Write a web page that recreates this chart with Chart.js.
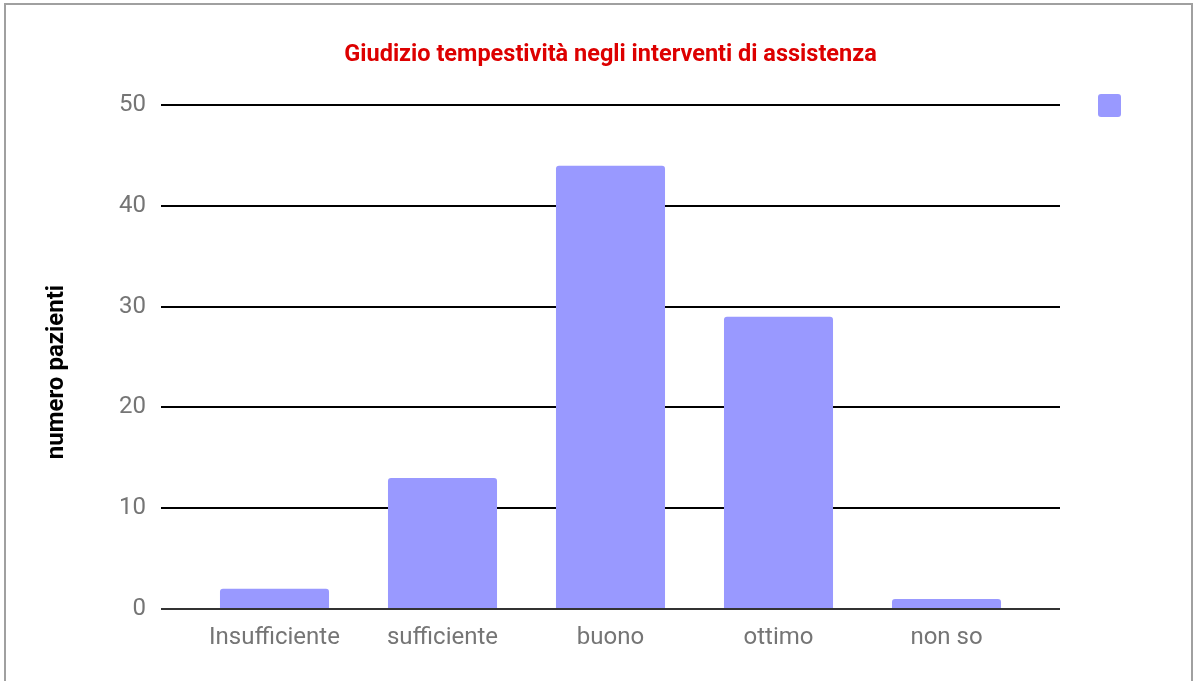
<!DOCTYPE html>
<html>
<head>
<meta charset="utf-8">
<script src="https://cdn.jsdelivr.net/npm/chart.js@4"></script>
<style>
    html, body { margin: 0; padding: 0; background: #fff; overflow: hidden; }
    #wrap { position: relative; width: 1200px; height: 681px; }
    #frame { position: absolute; left: 4px; top: 3px; width: 1189px; height: 720px;
             border: 2px solid #a0a0a0; box-sizing: border-box; }
    canvas { position: absolute; left: 0; top: 0; }
</style>
</head>
<body>
<div id="wrap">
    <div id="frame"></div>
    <canvas id="chart" width="1200" height="681"></canvas>
</div>
<script>
// ─── Data ────────────────────────────────────────────────────────────
const categories = ['Insufficiente', 'sufficiente', 'buono', 'ottimo', 'non so'];
const patients = [2, 13, 44, 29, 1];
const yTicks = [0, 10, 20, 30, 40, 50];

const BAR_COLOR = '#9999ff';
const X_INSET = 29.5; // categories sit inside the gridlines

// shift the category axis inward and center the title over the plot
const plotTweaks = {
    id: 'plotTweaks',
    afterLayout(chart) {
        const area = chart.chartArea;
        const x = chart.scales.x;
        x.left = area.left + X_INSET;
        x.right = area.right - X_INSET;
        x.width = x.right - x.left;
        x.configure();

        const t = chart.titleBlock;
        if (t) {
            t.left = area.left;
            t.right = area.right;
            t.width = area.right - area.left;
        }
    },
    // legend square without label, top-right
    afterDraw(chart) {
        const ctx = chart.ctx;
        ctx.save();
        ctx.fillStyle = chart.data.datasets[0].backgroundColor;
        ctx.beginPath();
        ctx.roundRect(1098, 94, 23, 23, 3);
        ctx.fill();
        ctx.restore();
    }
};

Chart.defaults.font.family = 'Roboto';

new Chart(document.getElementById('chart'), {
    type: 'bar',
    data: {
        labels: categories,
        datasets: [{
            label: '',
            data: patients,
            backgroundColor: BAR_COLOR,
            borderRadius: 3,
            borderSkipped: 'bottom',
            categoryPercentage: 1,
            barPercentage: 0.649
        }]
    },
    options: {
        responsive: false,
        animation: false,
        layout: { padding: { left: 0, right: 140, top: 0, bottom: 0 } },
        plugins: {
            legend: { display: false },
            tooltip: { enabled: false },
            title: {
                display: true,
                text: 'Giudizio tempestività negli interventi di assistenza',
                color: '#dd0000',
                font: { size: 23.5, weight: 'bold' },
                padding: { top: 41, bottom: 36 }
            }
        },
        scales: {
            x: {
                grid: { display: false, drawTicks: false },
                border: { display: false },
                ticks: { color: '#757575', font: { size: 24 }, padding: 15 },
                afterFit: scale => { scale.height = 72; }
            },
            y: {
                min: 0,
                max: 50,
                afterBuildTicks: scale => { scale.ticks = yTicks.map(v => ({ value: v })); },
                grid: {
                    drawTicks: false,
                    lineWidth: 2,
                    color: c => (c.tick && c.tick.value === 0) ? '#333333' : '#000000'
                },
                border: { display: false },
                ticks: { color: '#757575', font: { size: 24 }, padding: 15 },
                title: {
                    display: true,
                    text: 'numero pazienti     ',
                    color: '#000000',
                    font: { size: 24, weight: 'bold' },
                    padding: { top: 43, bottom: 0 }
                },
                afterFit: scale => { scale.width = 161; }
            }
        }
    },
    plugins: [plotTweaks]
});
</script>
</body>
</html>
